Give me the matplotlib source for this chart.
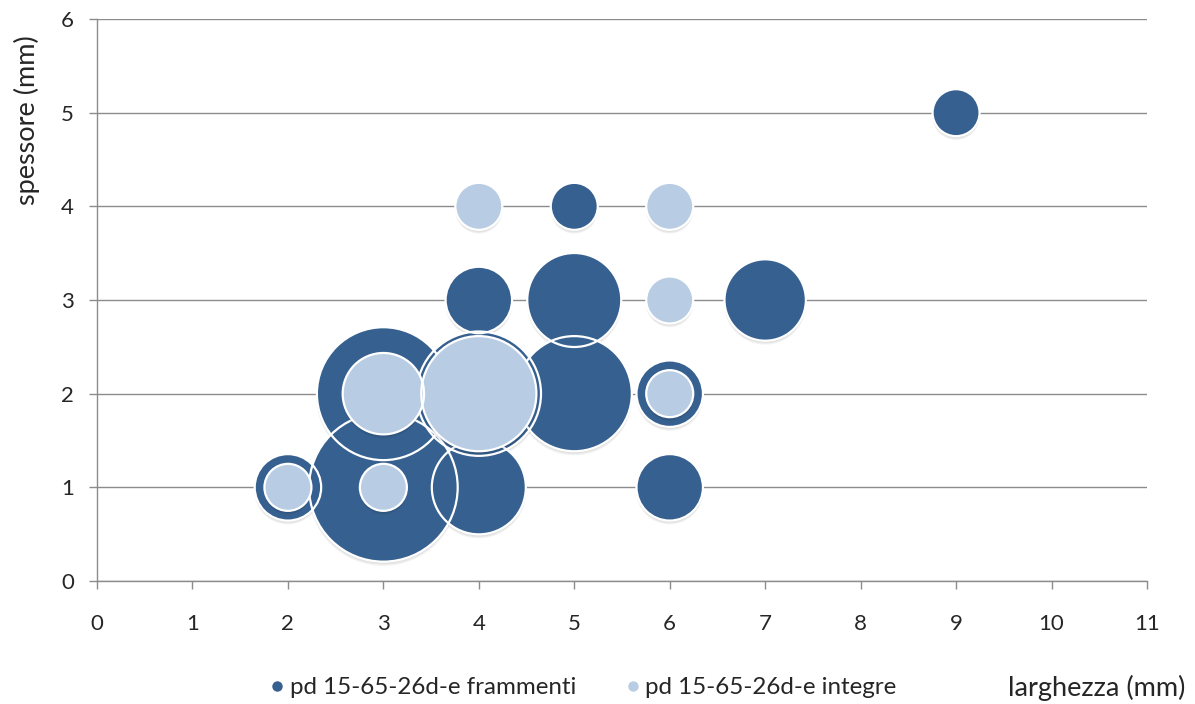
import matplotlib
matplotlib.use("Agg")
import matplotlib.pyplot as plt
from matplotlib.lines import Line2D
import numpy as np

# Fragments (frammenti): width, thickness, count
fram_x = [9, 5, 4, 5, 7, 3, 4, 5, 6, 2, 3, 4, 6]
fram_y = [5, 4, 3, 3, 3, 2, 2, 2, 2, 1, 1, 1, 1]
fram_n = [1, 1, 2, 4, 3, 8, 7, 6, 2, 2, 10, 4, 2]

# Whole pieces (integre): width, thickness, count
int_x = [4, 6, 6, 3, 4, 6, 2, 3]
int_y = [4, 4, 3, 2, 2, 2, 1, 1]
int_n = [1, 1, 1, 3, 6, 1, 1, 1]

series_labels = ["pd 15-65-26d-e frammenti", "pd 15-65-26d-e integre"]
x_label = "larghezza (mm)"
y_label = "spessore (mm)"
x_ticks = list(range(0, 12))
y_ticks = list(range(0, 7))

dark = "#36608F"
light = "#B8CCE4"
axis_gray = "#8C8C8C"
text_col = "#262626"

plt.rcParams["font.family"] = ["Lato", "DejaVu Sans"]

fig = plt.figure(figsize=(11.95, 7.04), dpi=100)
ax = fig.add_axes([0.0812, 0.1747, 0.8786, 0.7983])
ax.set_xlim(0, 11)
ax.set_ylim(0, 6)

# bubble area proportional to count (single-count bubble ~23.5 px radius)
base = (2 * 23.5 * 72 / fig.dpi) ** 2


def bubbles(xs, ys, ns, color, z):
    xs = np.asarray(xs, float)
    ys = np.asarray(ys, float)
    s = np.asarray(ns, float) * base
    order = np.argsort(-s)
    xs, ys, s = xs[order], ys[order], s[order]
    # soft drop shadow
    for k, a in enumerate([0.05, 0.05, 0.05]):
        off = (1.5 + k) / 93.7
        ax.scatter(xs, ys - off, s=s * (1 + 0.01 * k), color="black", alpha=a,
                   linewidths=0, zorder=z)
    ax.scatter(xs, ys, s=s, color=color, linewidths=0, zorder=z + 0.1)
    ax.scatter(xs, ys, s=s, facecolors="none", edgecolors="white",
               linewidths=1.6, zorder=z + 0.2)


bubbles(fram_x, fram_y, fram_n, dark, 3)
bubbles(int_x, int_y, int_n, light, 4)

ax.set_xticks(x_ticks)
ax.set_yticks(y_ticks)
ax.yaxis.grid(True, color=axis_gray, linewidth=1.0, zorder=0)
ax.set_axisbelow(True)
for sp in ["top", "right"]:
    ax.spines[sp].set_visible(False)
for sp in ["left", "bottom"]:
    ax.spines[sp].set_color(axis_gray)
    ax.spines[sp].set_linewidth(1.0)
ax.tick_params(axis="both", direction="out", length=5.5, width=1.0,
               color=axis_gray, labelsize=16, labelcolor=text_col)
ax.tick_params(axis="y", pad=11)
ax.tick_params(axis="x", pad=18)

fig.text(27 / 1195, 1 - 120 / 704, y_label, rotation=90, ha="center",
         va="center", fontsize=19.5, color=text_col)
fig.text(1185 / 1195, 1 - 688 / 704, x_label, ha="right", va="center",
         fontsize=19.5, color=text_col)

handles = [
    Line2D([], [], marker="o", linestyle="none", markersize=7.5,
           markerfacecolor=dark, markeredgecolor="none"),
    Line2D([], [], marker="o", linestyle="none", markersize=7.5,
           markerfacecolor=light, markeredgecolor="none"),
]
fig.legend(handles, series_labels, loc="center left",
           bbox_to_anchor=(269 / 1195, 1 - 688 / 704), ncol=2, frameon=False,
           fontsize=17.4, labelcolor=text_col, handletextpad=0.15,
           columnspacing=2.0, handlelength=0.7, borderpad=0, borderaxespad=0)

fig.savefig("out.png", dpi=100, facecolor="white")
